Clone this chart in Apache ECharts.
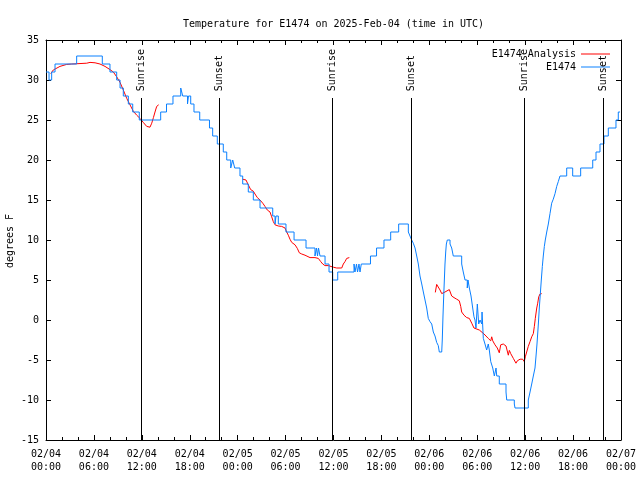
<!DOCTYPE html>
<html><head><meta charset="utf-8">
<script src="https://cdn.jsdelivr.net/npm/echarts@6/dist/echarts.min.js"></script>
<style>html,body{margin:0;padding:0;background:#fff}#c{width:640px;height:480px}</style>
</head><body><div id="c"></div>
<script>
// Hours since 2025-02-04 00:00 UTC
var startDay = '2025-02-04';
var xTickDates = ['02/04','02/04','02/04','02/04','02/05','02/05','02/05','02/05','02/06','02/06','02/06','02/06','02/07'];
var xTickTimes = ['00:00','06:00','12:00','18:00','00:00','06:00','12:00','18:00','00:00','06:00','12:00','18:00','00:00'];

var obsHours = [0.00,0.38,0.71,1.13,3.84,7.05,8.01,8.85,9.27,9.68,10.31,10.86,11.68,14.36,15.09,15.90,16.87,17.12,17.72,17.84,18.12,18.53,19.25,20.47,20.87,21.45,22.20,22.63,23.13,23.38,23.63,24.29,24.63,25.33,25.96,26.80,28.39,28.68,28.80,29.09,30.05,31.06,32.56,33.68,33.87,34.00,34.12,34.31,34.94,35.44,35.90,36.53,38.57,38.69,38.88,39.01,39.19,39.32,39.48,40.63,41.39,42.32,43.16,44.16,45.37,45.58,45.79,45.99,46.21,46.42,46.62,46.83,47.05,47.25,47.46,47.67,47.87,48.08,48.30,48.50,48.71,48.92,49.12,49.25,49.55,49.62,49.71,49.80,49.88,49.96,50.05,50.13,50.25,50.59,50.80,51.00,52.05,52.25,52.47,52.75,52.84,53.01,53.22,53.43,53.59,53.72,53.84,54.01,54.18,54.35,54.56,54.60,54.76,54.97,55.18,55.38,55.51,55.69,55.94,56.14,56.35,56.44,56.76,57.60,57.69,58.64,58.73,60.39,60.61,60.82,61.02,61.23,61.36,61.48,61.65,61.77,61.90,62.02,62.15,62.27,62.40,62.52,62.70,62.90,63.11,63.32,63.52,63.74,63.95,64.15,64.36,65.20,65.95,66.95,68.46,68.87,69.37,69.87,70.41,71.37,71.66,71.88];
var obsTemps = [31,30,31,32,33,32,31,30,29,28,27,26,25,26,27,28,29,28,27,28,27,26,25,24,23,22,21,20,19,20,19,18,17,16,15,14,13,12,13,12,11,10,9,8,9,8,9,8,7,6,5,6,7,6,7,6,7,6,7,8,9,10,11,12,11,10.5,10,9.6,9,8,7,5.5,4.5,3.5,2.5,1.5,0.2,-0.2,-0.5,-1.5,-2,-2.8,-3.2,-4,-4,-2.5,0.5,3,5,7,8.5,9.5,10,9.5,9,8,7,6,5,4,5,4,3,1.5,0.4,0,-1,2,-0.5,0,-0.5,1,-2.3,-3,-3.75,-3,-3.75,-5.2,-6,-7,-6,-7,-8,-9,-10,-10.5,-11,-10,-9,-8,-7,-6,-4.5,-3,-0.5,1.5,3.3,5,6.7,8,9.2,10,11,12,13.3,14.6,15.1,15.8,16.7,17.3,18,19,18,19,20,21,22,23,24,25,26,26];

// null marks a gap between analysis runs
var anaHours = [0.59,0.91,1.75,2.59,3.22,5.10,5.51,6.14,6.76,7.39,8.01,8.43,8.85,9.27,9.68,10.11,10.52,10.93,11.36,11.77,12.18,12.61,13.02,13.24,13.45,13.65,13.86,14.11,null,
24.63,25.04,25.33,25.63,25.96,26.17,26.46,26.80,27.14,27.42,27.71,28.05,28.26,28.46,28.68,29.09,29.51,29.93,30.14,30.34,30.55,30.77,31.18,31.47,31.72,32.02,32.43,32.64,33.06,33.68,34.10,34.40,34.65,34.94,35.35,35.56,35.98,36.40,37.03,37.23,37.44,37.65,37.98,null,
48.75,48.92,49.12,49.34,49.55,49.75,49.96,50.18,50.50,50.71,50.80,51.09,51.43,51.75,51.93,52.05,52.34,52.68,53.01,53.31,53.59,53.84,54.26,54.85,55.10,55.38,55.69,55.81,55.94,56.22,56.51,56.76,56.94,57.26,57.60,57.77,57.89,58.02,58.19,58.52,58.85,59.02,59.36,59.69,59.89,60.02,60.19,60.39,60.61,60.82,61.02,61.15,61.27,61.45,61.57,61.70,61.86,62.07];
var anaTemps = [30.8,31.25,31.7,31.95,32.0,32.1,32.2,32.15,32.0,31.7,31.3,31.0,30.4,29.7,28.75,27.7,26.9,26.1,25.6,25.2,24.7,24.2,24.1,24.6,25.3,26.0,26.7,26.9,null,
17.6,17.5,16.9,16.3,16.1,15.75,15.3,15.0,14.6,14.2,13.75,13.5,12.9,12.3,11.9,11.75,11.7,11.5,11.0,10.6,10.1,9.7,9.4,8.95,8.4,8.25,8.1,7.9,7.8,7.8,7.7,7.3,7.0,6.8,6.8,6.7,6.6,6.5,6.5,7.0,7.3,7.7,7.8,null,
3.45,4.45,4.2,3.75,3.3,3.1,3.5,3.7,3.8,3.8,3.0,2.8,2.6,2.4,1.7,1.0,0.6,0.3,0.2,-0.4,-1.0,-1.25,-1.25,-1.75,-2.0,-2.3,-2.6,-2.1,-2.6,-3.1,-3.5,-4.1,-3.1,-3.0,-3.25,-3.4,-4.4,-3.8,-4.2,-4.8,-5.4,-5.1,-4.9,-4.9,-5.2,-4.6,-4.0,-3.3,-2.7,-2.1,-1.7,-0.8,0.2,1.5,2.1,2.9,3.25,3.3];

var sunHours = [11.98,21.75,35.90,45.74,59.94,69.79];
var sunLabels = ['Sunrise','Sunset','Sunrise','Sunset','Sunrise','Sunset'];
var sunLineTop = 27.75;   // value where the marker lines start
var sunLabelBase = 28.6;  // value where the rotated labels begin

var yMin = -15, yMax = 35, yStep = 5;
var xMin = 0, xMax = 72, xStep = 6;
var yTitle = 'degrees F';

var FONT = 'DejaVu Sans Mono';
var obsData = obsHours.map(function(h,i){return [h, obsTemps[i]];});
var anaData = anaHours.map(function(h,i){ return h===null ? [anaHours[i-1]+0.01,'-'] : [h, anaTemps[i]]; });

function xLabel(v){
  var i = Math.round(v / xStep);
  return xTickDates[i] + '\n' + xTickTimes[i];
}
var tickStyle = {show:true, inside:true, length:5, lineStyle:{color:'#000'}};
var minorStyle = {show:true, splitNumber:3, length:3, lineStyle:{color:'#000'}};
var lineAx = {show:true, onZero:false, lineStyle:{color:'#000', width:1}};

var chart = echarts.init(document.getElementById('c'), null, {renderer:'canvas'});
chart.setOption({
  animation:false,
  backgroundColor:'#fff',
  title:{text:'Temperature for E1474 on 2025-Feb-04 (time in UTC)', left:178, top:14,
    textStyle:{fontFamily:FONT, fontSize:10, fontWeight:'normal', color:'#000'}},
  graphic:[{type:'text', x:10, y:241, rotation:Math.PI/2, silent:true,
    style:{text:yTitle, fontFamily:FONT, fontSize:10, fill:'#000', align:'center', verticalAlign:'middle'}}],
  legend:[
    {data:['E1474 Analysis'], orient:'vertical', right:25, top:44, align:'right', icon:'rect', itemWidth:29, itemHeight:1,
      textStyle:{fontFamily:FONT, fontSize:10, color:'#000'}},
    {data:['E1474'], orient:'vertical', right:25, top:57, align:'right', icon:'rect', itemWidth:29, itemHeight:1,
      textStyle:{fontFamily:FONT, fontSize:10, color:'#000'}}
  ],
  grid:{left:46, right:19, top:40, bottom:40, show:false, containLabel:false, outerBoundsMode:'none'},
  xAxis:[
    {type:'value', min:xMin, max:xMax, interval:xStep, position:'bottom',
      axisLine:lineAx, axisTick:tickStyle, minorTick:minorStyle, splitLine:{show:false},
      axisLabel:{formatter:xLabel, fontFamily:FONT, fontSize:10, color:'#000', lineHeight:13, margin:8}},
    {type:'value', min:xMin, max:xMax, interval:xStep, position:'top',
      axisLine:lineAx, axisTick:tickStyle, minorTick:minorStyle, splitLine:{show:false}, axisLabel:{show:false}}
  ],
  yAxis:[
    {type:'value', min:yMin, max:yMax, interval:yStep, position:'left',
      axisLine:lineAx, axisTick:tickStyle, splitLine:{show:false},
      axisLabel:{fontFamily:FONT, fontSize:10, color:'#000', margin:7}},
    {type:'value', min:yMin, max:yMax, interval:yStep, position:'right',
      axisLine:lineAx, axisTick:tickStyle, splitLine:{show:false}, axisLabel:{show:false}}
  ],
  series:[
    {name:'E1474 Analysis', type:'line', data:anaData, showSymbol:false, symbol:'none', connectNulls:false,
      lineStyle:{color:'#ff0000', width:1}, itemStyle:{color:'#ff0000'}, z:2},
    {name:'E1474', type:'line', data:obsData, step:'end', showSymbol:false, symbol:'none',
      lineStyle:{color:'#0a80ff', width:1}, itemStyle:{color:'#0a80ff'}, z:3},
    {name:'sun', type:'scatter', data:sunHours.map(function(h){return [h, sunLabelBase];}),
      symbolSize:2, itemStyle:{color:'rgba(0,0,0,0)'}, silent:true, z:4,
      labelLayout:{hideOverlap:false},
      label:{show:true, position:'inside', rotate:90, align:'left', verticalAlign:'middle',
        fontFamily:FONT, fontSize:10, color:'#000', opacity:1, textBorderWidth:0,
        formatter:function(p){return sunLabels[p.dataIndex];}},
      markLine:{silent:true, symbol:'none', label:{show:false}, animation:false,
        lineStyle:{color:'#000', width:1, type:'solid'},
        data:sunHours.map(function(h){return [{coord:[h,yMin]},{coord:[h,sunLineTop]}];})}}
  ]
});
</script></body></html>
